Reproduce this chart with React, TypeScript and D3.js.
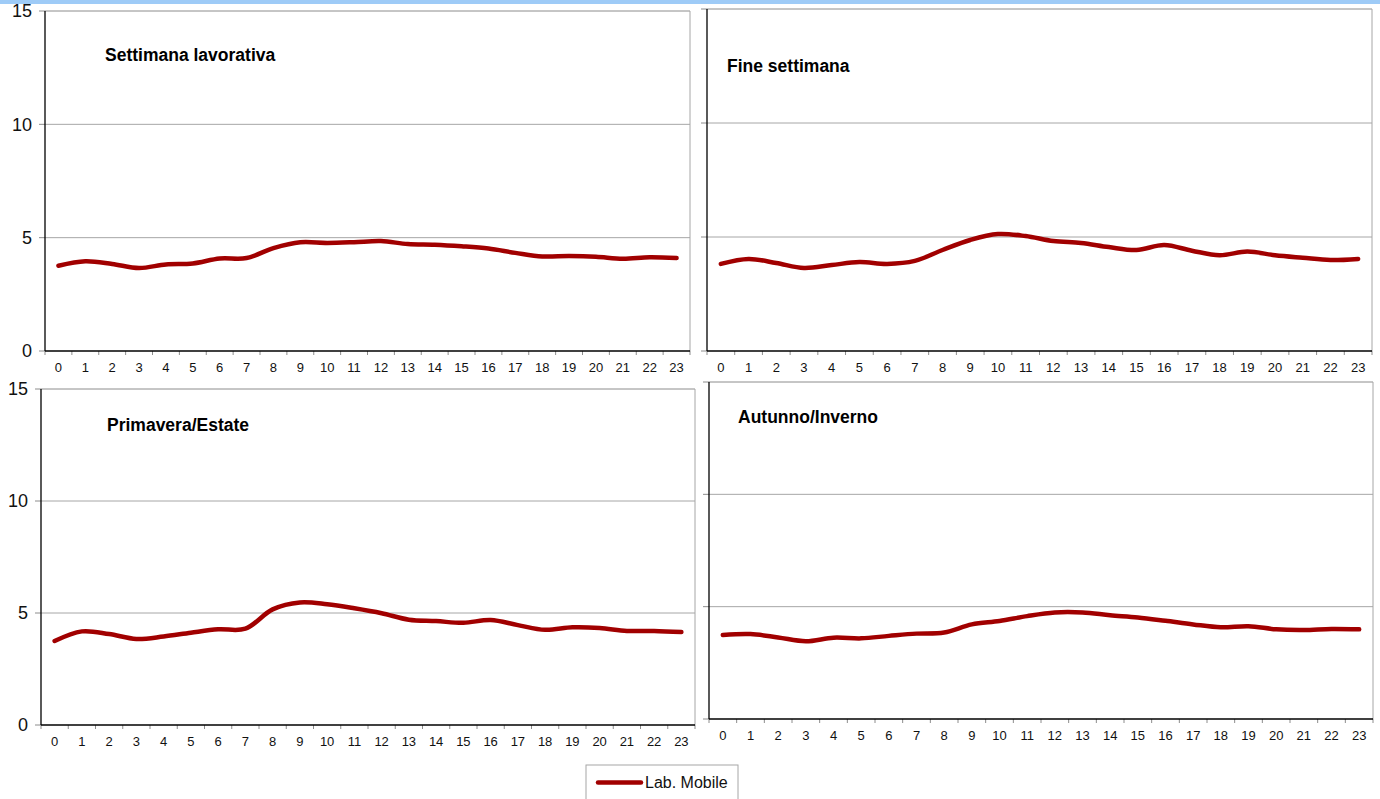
import React from "react";
import * as d3 from "d3";

const hours: string[] = Array.from({ length: 24 }, (_, i) => String(i));
const yTicks: number[] = [0, 5, 10, 15];

const titles: string[] = ["Settimana lavorativa", "Fine settimana", "Primavera/Estate", "Autunno/Inverno"];
const seriesName = "Lab. Mobile";

const settimanaLavorativa: number[] = [3.76, 3.96, 3.84, 3.66, 3.82, 3.86, 4.08, 4.1, 4.54, 4.8, 4.77, 4.8, 4.85, 4.72, 4.69, 4.62, 4.52, 4.33, 4.17, 4.19, 4.16, 4.07, 4.14, 4.1];
const fineSettimana: number[] = [3.82, 4.04, 3.86, 3.64, 3.77, 3.9, 3.82, 3.95, 4.43, 4.87, 5.13, 5.04, 4.82, 4.74, 4.56, 4.43, 4.65, 4.4, 4.2, 4.36, 4.2, 4.09, 3.99, 4.04];
const primaveraEstate: number[] = [3.75, 4.18, 4.06, 3.84, 3.95, 4.12, 4.27, 4.3, 5.16, 5.47, 5.39, 5.21, 4.99, 4.7, 4.64, 4.56, 4.69, 4.46, 4.25, 4.36, 4.33, 4.2, 4.2, 4.15];
const autunnoInverno: number[] = [3.74, 3.78, 3.63, 3.46, 3.62, 3.59, 3.7, 3.8, 3.85, 4.21, 4.36, 4.58, 4.74, 4.74, 4.62, 4.52, 4.37, 4.21, 4.08, 4.13, 3.99, 3.96, 4.01, 3.99];

const panelData: number[][] = [settimanaLavorativa, fineSettimana, primaveraEstate, autunnoInverno];

type Panel = { left: number; right: number; top: number; bottom: number; showY: boolean; tx: number; ty: number };
const panels: Panel[] = [
  { left: 45, right: 690, top: 11, bottom: 351, showY: true, tx: 105, ty: 61 },
  { left: 707, right: 1372, top: 9, bottom: 351, showY: false, tx: 727, ty: 72 },
  { left: 41, right: 695, top: 389, bottom: 725, showY: true, tx: 107, ty: 431 },
  { left: 709, right: 1373, top: 382, bottom: 719, showY: false, tx: 738, ty: 423 },
];

const LINE = "#a10000";
const GRID = "#a6a6a6";
const FONT = "Arial, 'Liberation Sans', sans-serif";

function ChartPanel({ p, values, title }: { p: Panel; values: number[]; title: string }) {
  const x = d3.scaleBand<string>().domain(hours).range([p.left, p.right]);
  const y = d3.scaleLinear().domain([0, 15]).range([p.bottom, p.top]);
  const line = d3
    .line<number>()
    .x((_, i) => (x(hours[i]) as number) + x.bandwidth() / 2)
    .y((v) => y(v))
    .curve(d3.curveCatmullRom.alpha(0.5));
  const bounds = d3.range(hours.length + 1).map((i) => p.left + i * x.bandwidth());
  return (
    <g>
      <rect x={p.left} y={p.top} width={p.right - p.left} height={p.bottom - p.top} fill="#fff" />
      {yTicks.filter((t) => t > 0 && t < 15).map((t) => (
        <line key={"g" + t} x1={p.left} x2={p.right} y1={y(t)} y2={y(t)} stroke={GRID} strokeWidth={1} />
      ))}
      {/* frame top and right */}
      <line x1={p.left} x2={p.right} y1={y(15)} y2={y(15)} stroke="#8c8c8c" strokeWidth={1} />
      <line x1={p.right} x2={p.right} y1={p.top} y2={p.bottom} stroke="#a6a6a6" strokeWidth={1} />
      {/* y ticks */}
      {yTicks.map((t) => (
        <line key={"yt" + t} x1={p.left - 6} x2={p.left} y1={y(t)} y2={y(t)} stroke="#8c8c8c" strokeWidth={1} />
      ))}
      {p.showY &&
        yTicks.map((t) => (
          <text key={"yl" + t} x={p.left - 13} y={y(t)} dy="0.36em" textAnchor="end" fontFamily={FONT} fontSize={18} fill="#111">
            {t}
          </text>
        ))}
      {/* x ticks */}
      {bounds.map((b, i) => (
        <line key={"xt" + i} x1={b} x2={b} y1={p.bottom} y2={p.bottom + 4} stroke="#8c8c8c" strokeWidth={1} />
      ))}
      {hours.map((h) => (
        <text key={"xl" + h} x={(x(h) as number) + x.bandwidth() / 2} y={p.bottom + 21} textAnchor="middle" fontFamily={FONT} fontSize={13} fill="#111">
          {h}
        </text>
      ))}
      {/* axes */}
      <line x1={p.left} x2={p.left} y1={p.top} y2={p.bottom} stroke="#000" strokeWidth={1.3} />
      <line x1={p.left} x2={p.right} y1={p.bottom} y2={p.bottom} stroke="#000" strokeWidth={1.3} />
      <path d={line(values) || ""} fill="none" stroke={LINE} strokeWidth={4.5} strokeLinecap="round" strokeLinejoin="round" />
      <text x={p.tx} y={p.ty} fontFamily={FONT} fontSize={17.5} fontWeight="bold" fill="#000">
        {title}
      </text>
    </g>
  );
}

export default function App() {
  return (
    <div style={{ position: "absolute", left: 0, top: 0 }}>
      <svg width={1380} height={799} style={{ display: "block", background: "#fff" }}>
        <rect x={0} y={0} width={1380} height={4} fill="#9ecbf7" />
        {panels.map((p, i) => (
          <ChartPanel key={i} p={p} values={panelData[i]} title={titles[i]} />
        ))}
        <g>
          <rect x={586} y={765} width={152} height={40} fill="#fff" stroke="#a6a6a6" strokeWidth={1} />
          <line x1={598} x2={641} y1={782.5} y2={782.5} stroke={LINE} strokeWidth={4.5} strokeLinecap="round" />
          <text x={645} y={788} fontFamily={FONT} fontSize={16} fill="#111">
            {seriesName}
          </text>
        </g>
      </svg>
    </div>
  );
}
